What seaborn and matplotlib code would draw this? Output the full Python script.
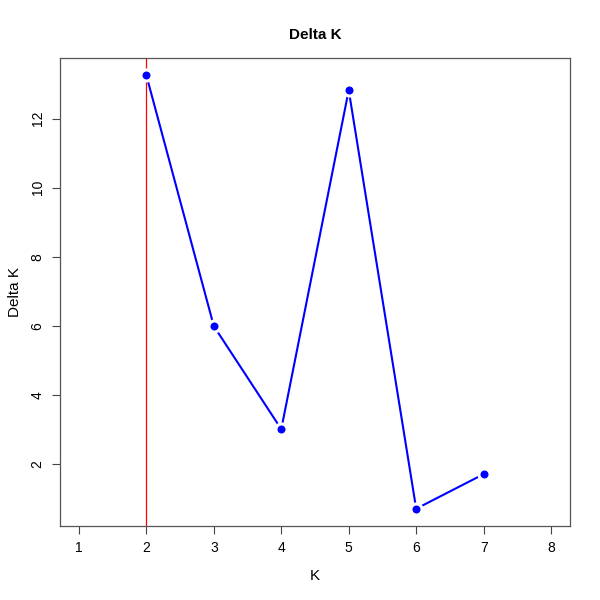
import matplotlib
matplotlib.use('Agg')
import matplotlib.pyplot as plt
import seaborn as sns
import pandas as pd

# Delta K values
k_values = [2, 3, 4, 5, 6, 7]
delta_k = [13.25, 6.0, 3.02, 12.82, 0.72, 1.72]
best_k = 2
x_ticks = [1, 2, 3, 4, 5, 6, 7, 8]
y_ticks = [2, 4, 6, 8, 10, 12]

df = pd.DataFrame({'K': k_values, 'Delta K': delta_k})

sns.set_style("white")
plt.rcParams['font.family'] = ['Liberation Sans', 'DejaVu Sans']
plt.rcParams['text.color'] = 'black'
plt.rcParams['axes.labelcolor'] = 'black'
plt.rcParams['xtick.color'] = 'black'
plt.rcParams['ytick.color'] = 'black'

fig = plt.figure(figsize=(6, 6), dpi=100)
ax = fig.add_axes([0.1, 0.1233, 0.85, 0.78])

ax.axvline(best_k, color='red', linewidth=0.9, zorder=1)
sns.lineplot(data=df, x='K', y='Delta K', ax=ax, color='blue', linewidth=1.5,
             marker='o', markersize=8, markerfacecolor='blue',
             markeredgecolor='white', markeredgewidth=2.2, zorder=3)

ax.set_xlim(0.72, 8.28)
ax.set_ylim(0.22, 13.75)
ax.set_xticks(x_ticks)
ax.set_yticks(y_ticks)
ax.set_yticklabels([str(v) for v in y_ticks], rotation=90, va='center')
ax.tick_params(axis='both', direction='out', length=6, width=0.8, color='#444444',
               labelsize=10, pad=5, bottom=True, left=True)

for side in ['top', 'right', 'left', 'bottom']:
    ax.spines[side].set_color('#555555')
    ax.spines[side].set_linewidth(0.9)

ax.set_title('Delta K', fontsize=11, fontweight='bold', pad=14)
ax.set_xlabel('K', fontsize=11, labelpad=10)
ax.set_ylabel('Delta K', fontsize=11, labelpad=6)

fig.savefig('out.png', dpi=100)
